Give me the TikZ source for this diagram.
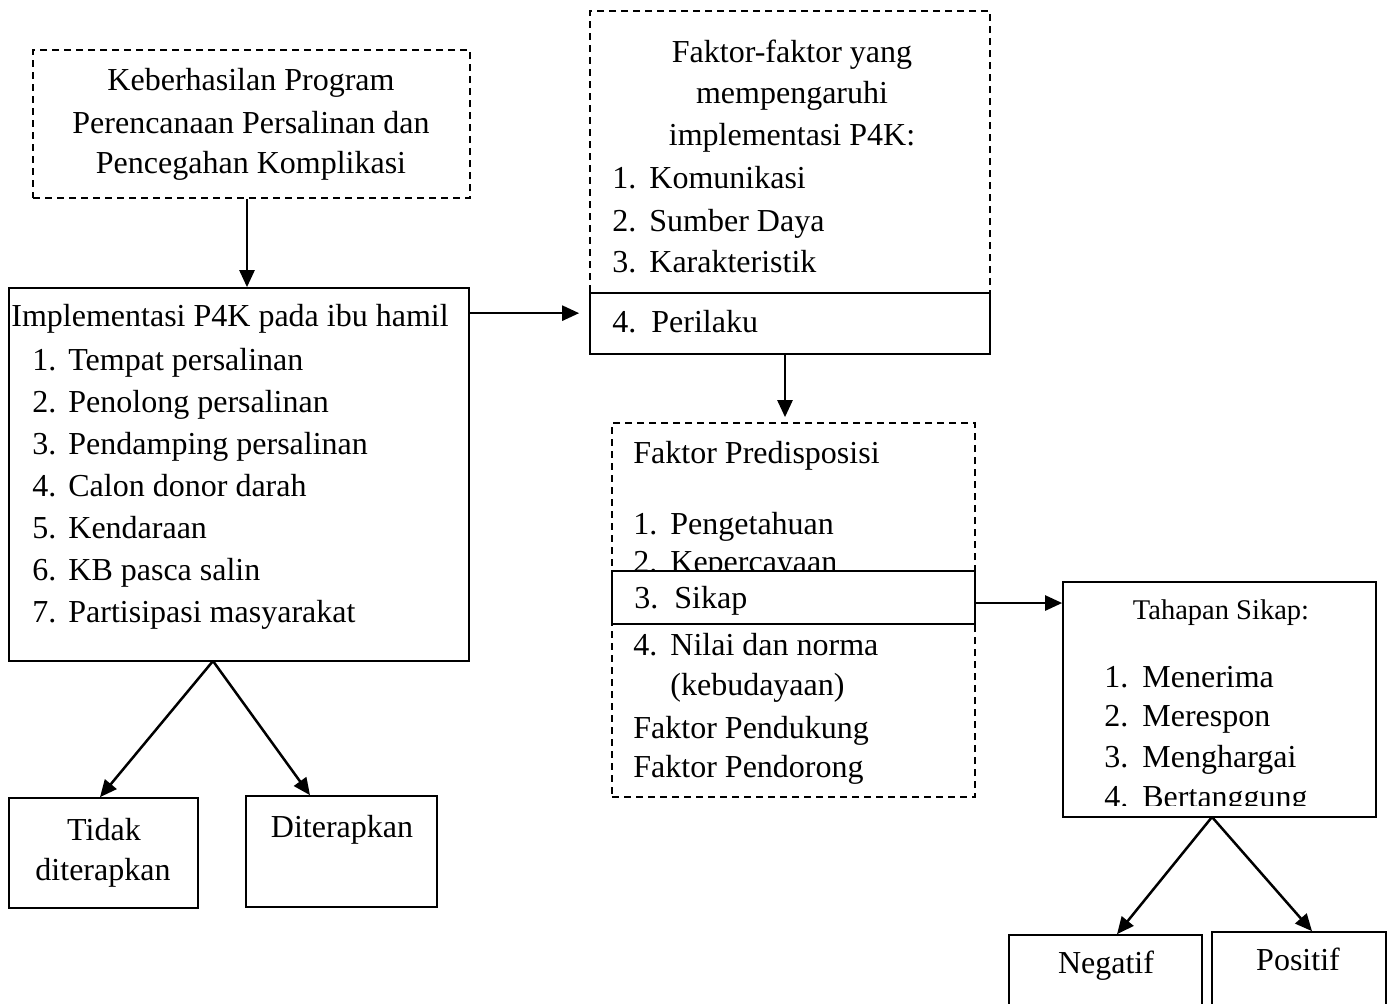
\documentclass[tikz,border=0pt]{standalone}
\usepackage{fontspec}
\setmainfont{Liberation Serif}
\usetikzlibrary{arrows.meta}
\usetikzlibrary{positioning}

\newcommand{\numlbl}[2][18.5pt]{\makebox[#1][l]{#2}}

\begin{document}
\begin{tikzpicture}[x=0.5pt,y=-0.5pt,
  dbox/.style={draw,line width=0.85pt,dash pattern=on 3.5pt off 2.5pt,inner sep=0pt},
  sbox/.style={draw,line width=0.85pt,inner sep=0pt,fill=white},
  lbl/.style={inner sep=0pt,anchor=base west,font=\fontsize{16}{19}\selectfont},
  clbl/.style={lbl,anchor=base},
  arr/.style={line width=1.25pt,-{Triangle[length=8.5pt,width=7.5pt]}}]
\useasboundingbox (0,0) rectangle (1395,1003);

% program box
\node[dbox,minimum width=218.5pt,minimum height=74pt] (keb) at (251.5,124) {};
\node[clbl] (kebA) at (251,90) {Keberhasilan Program};
\node[clbl] (kebB) at (251,133) {Perencanaan Persalinan dan};
\node[clbl] (kebC) at (251,173) {Pencegahan Komplikasi};

% implementasi box
\node[sbox,minimum width=230pt,minimum height=186.5pt] (impl) at (239,474.5) {};
\node[lbl] (implT) at (11,326) {Implementasi P4K pada ibu hamil};
\node[lbl] (impl1) at (32,370) {\numlbl[18pt]{1.}Tempat persalinan};
\node[lbl] (impl2) at (32,412) {\numlbl[18pt]{2.}Penolong persalinan};
\node[lbl] (impl3) at (32,454) {\numlbl[18pt]{3.}Pendamping persalinan};
\node[lbl] (impl4) at (32,496) {\numlbl[18pt]{4.}Calon donor darah};
\node[lbl] (impl5) at (32,538) {\numlbl[18pt]{5.}Kendaraan};
\node[lbl] (impl6) at (32,580) {\numlbl[18pt]{6.}KB pasca salin};
\node[lbl] (impl7) at (32,622) {\numlbl[18pt]{7.}Partisipasi masyarakat};

% faktor box
\node[dbox,minimum width=200pt,minimum height=141pt] (faktor) at (790,152) {};
\node[clbl] (faktorA) at (792,62) {Faktor-faktor yang};
\node[clbl] (faktorB) at (792,103) {mempengaruhi};
\node[clbl] (faktorC) at (792,145) {implementasi P4K:};
\node[lbl] (faktor1) at (612,188) {\numlbl{1.}Komunikasi};
\node[lbl] (faktor2) at (612,231) {\numlbl{2.}Sumber Daya};
\node[lbl] (faktor3) at (612,272) {\numlbl{3.}Karakteristik};
\node[sbox,minimum width=200pt,minimum height=30.5pt] (perilaku) at (790,323.5) {};
\node[lbl] (perilakuT) at (612,332) {\numlbl[19.5pt]{4.}Perilaku};

% predisposisi box
\node[dbox,minimum width=181.5pt,minimum height=187pt] (predis) at (793.5,610) {};
\node[lbl] (predisT) at (633,463) {Faktor Predisposisi};
\node[lbl] (predis1) at (633,534) {\numlbl{1.}Pengetahuan};
\node[lbl] (predis2) at (633,572) {\numlbl{2.}Kepercayaan};
\node[sbox,minimum width=181.5pt,minimum height=26.5pt] (sikap) at (793.5,597.5) {};
\node[lbl] (sikapT) at (634,608) {\numlbl[20pt]{3.}Sikap};
\node[lbl] (predis4) at (633,655) {\numlbl{4.}Nilai dan norma};
\node[lbl] (predis4b) at (670,695) {(kebudayaan)};
\node[lbl] (dukung) at (633,738) {Faktor Pendukung};
\node[lbl] (dorong) at (633,777) {Faktor Pendorong};

% tahapan box
\node[sbox,minimum width=156.5pt,minimum height=117.5pt] (tahap) at (1219.5,699.5) {};
\node[clbl,font=\fontsize{14.25}{17}\selectfont] (tahapT) at (1221,619) {Tahapan Sikap:};
\node[lbl] (tahap1) at (1104,687) {\numlbl[19pt]{1.}Menerima};
\node[lbl] (tahap2) at (1104,726) {\numlbl[19pt]{2.}Merespon};
\node[lbl] (tahap3) at (1104,767) {\numlbl[19pt]{3.}Menghargai};
\begin{scope}
\clip (1063,582) rectangle (1376,805);
\node[lbl] (tahap4) at (1104,807) {\numlbl[19pt]{4.}Bertanggung};
\end{scope}

% hasil boxes
\node[sbox,minimum width=94.5pt,minimum height=55pt] (tidak) at (103.5,853) {};
\node[clbl] (tidakA) at (104,840) {Tidak};
\node[clbl] (tidakB) at (103,880) {diterapkan};
\node[sbox,minimum width=95.5pt,minimum height=55.5pt] (diterap) at (341.5,851.5) {};
\node[clbl] (diterapT) at (342,837) {Diterapkan};
\node[sbox,minimum width=96.5pt,minimum height=42.5pt] (neg) at (1105.5,977.5) {};
\node[clbl] (negT) at (1106,973) {Negatif};
\node[sbox,minimum width=87pt,minimum height=44pt] (pos) at (1299,976) {};
\node[clbl] (posT) at (1298,970) {Positif};

% arrows
\coordinate (isplit) at (213,661);
\coordinate (tsplit) at (1212,817);
\draw[arr] ([xshift=-2.25pt]keb.south) -- ([xshift=-2.25pt]keb.south |- impl.north);
\draw[arr,shorten >=5pt] ([yshift=-13pt]impl.north east) -- ([yshift=-13pt]impl.north east -| faktor.west);
\draw[arr,shorten >=2.5pt] ([xshift=-2.5pt]perilaku.south) -- ([xshift=-2.5pt]perilaku.south |- predis.north);
\draw[arr] ([yshift=-2.75pt]sikap.east) -- ([yshift=-2.75pt]sikap.east -| tahap.west);
\draw[arr] (isplit) -- ([xshift=-1.75pt]tidak.north);
\draw[arr] (isplit) -- ([xshift=-15.75pt]diterap.north);
\draw[arr] (tsplit) -- ([xshift=5.75pt]neg.north);
\draw[arr] (tsplit) -- ([xshift=6.5pt]pos.north);

\end{tikzpicture}
\end{document}
